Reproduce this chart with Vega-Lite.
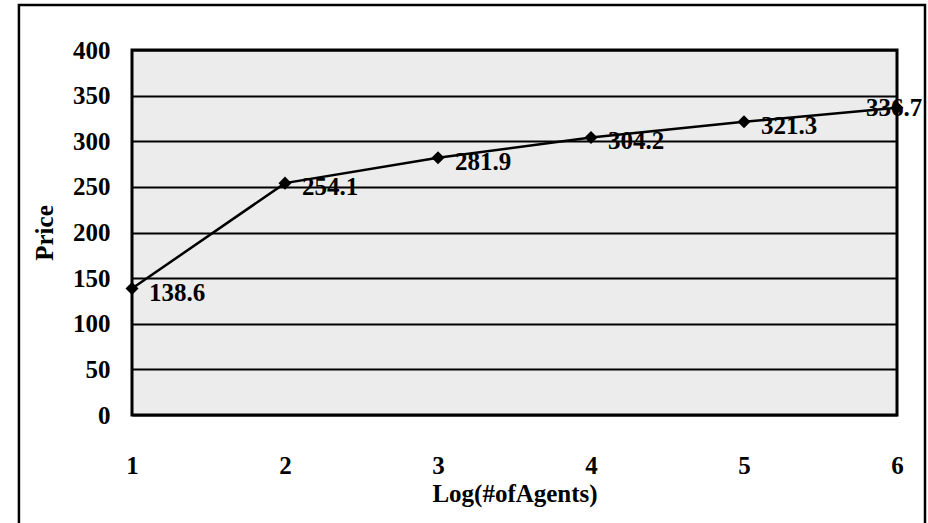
{
  "$schema": "https://vega.github.io/schema/vega-lite/v6.json",
  "width": 765,
  "height": 365,
  "autosize": "none",
  "padding": {"left": 132, "top": 50, "right": 31, "bottom": 108},
  "background": "white",
  "config": {
    "font": "Liberation Serif",
    "view": {"fill": "#ececec", "stroke": "black", "strokeWidth": 3},
    "axis": {
      "labelFont": "Liberation Serif",
      "labelFontWeight": "bold",
      "labelFontSize": 25,
      "labelColor": "black",
      "titleFont": "Liberation Serif",
      "titleFontWeight": "bold",
      "titleFontSize": 25,
      "titleColor": "black",
      "domain": false,
      "ticks": false
    }
  },
  "data": {
    "values": [
      {"agents": 1, "price": 138.6},
      {"agents": 2, "price": 254.1},
      {"agents": 3, "price": 281.9},
      {"agents": 4, "price": 304.2},
      {"agents": 5, "price": 321.3},
      {"agents": 6, "price": 336.7}
    ]
  },
  "layer": [
    {
      "data": {"values": [{"x0": 0.261, "x1": 6.183, "y0": -126, "y1": 449.3}]},
      "mark": {"type": "rect", "fill": null, "stroke": "black", "strokeWidth": 2.5, "clip": false},
      "encoding": {
        "x": {"field": "x0", "type": "quantitative", "scale": {"domain": [1, 6]}},
        "x2": {"field": "x1"},
        "y": {"field": "y0", "type": "quantitative", "scale": {"domain": [0, 400]}},
        "y2": {"field": "y1"}
      }
    },
    {
      "mark": {"type": "line", "color": "black", "strokeWidth": 2.5},
      "encoding": {
        "x": {
          "field": "agents", "type": "quantitative",
          "scale": {"domain": [1, 6], "nice": false, "zero": false},
          "axis": {"values": [1, 2, 3, 4, 5, 6], "format": "d", "grid": false, "labelFlush": false, "labelPadding": 38, "titlePadding": 3, "title": "Log(#ofAgents)"}
        },
        "y": {
          "field": "price", "type": "quantitative",
          "scale": {"domain": [0, 400]},
          "axis": {"values": [0, 50, 100, 150, 200, 250, 300, 350, 400], "grid": true, "gridColor": "black", "gridWidth": 2, "gridOpacity": 1, "labelPadding": 22, "titlePadding": 15, "title": "Price"}
        }
      }
    },
    {
      "mark": {"type": "point", "shape": "diamond", "filled": true, "color": "black", "size": 170, "opacity": 1},
      "encoding": {
        "x": {"field": "agents", "type": "quantitative"},
        "y": {"field": "price", "type": "quantitative"}
      }
    },
    {
      "transform": [{"filter": "datum.agents < 6"}],
      "mark": {"type": "text", "align": "left", "baseline": "alphabetic", "dx": 17, "dy": 12, "font": "Liberation Serif", "fontWeight": "bold", "fontSize": 25, "color": "black"},
      "encoding": {
        "x": {"field": "agents", "type": "quantitative"},
        "y": {"field": "price", "type": "quantitative"},
        "text": {"field": "price", "type": "quantitative", "format": ".1f"}
      }
    },
    {
      "transform": [{"filter": "datum.agents == 6"}],
      "mark": {"type": "text", "align": "center", "baseline": "alphabetic", "dx": -3, "dy": 8, "font": "Liberation Serif", "fontWeight": "bold", "fontSize": 25, "color": "black", "clip": false},
      "encoding": {
        "x": {"field": "agents", "type": "quantitative"},
        "y": {"field": "price", "type": "quantitative"},
        "text": {"field": "price", "type": "quantitative", "format": ".1f"}
      }
    }
  ]
}
